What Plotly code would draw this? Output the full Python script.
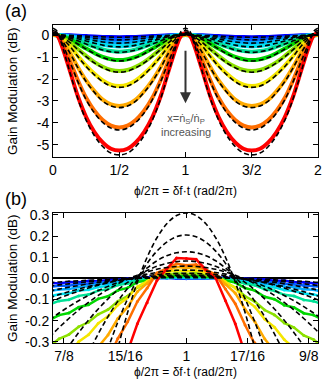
import plotly.graph_objects as go
from plotly.subplots import make_subplots

# ---------------- data ----------------
# (a) one half-lobe of each curve, phase 0..1/2 ; the curve is symmetric and repeats with period 1
half_phase = [0, 0.03125, 0.0625, 0.125, 0.1875, 0.25, 0.3125, 0.375, 0.4375, 0.5]

colors = ['rgb(0,0,255)', 'rgb(0,95,255)', 'rgb(0,170,255)', 'rgb(0,225,240)',
          'rgb(0,225,150)', 'rgb(0,215,0)', 'rgb(140,225,0)', 'rgb(245,230,0)',
          'rgb(255,170,0)', 'rgb(255,110,0)', 'rgb(255,0,0)']

gain_blue = [0, -0.001, -0.004, -0.015, -0.031, -0.05, -0.069, -0.085, -0.096, -0.1]
gain_blue2 = [0, -0.002, -0.009, -0.033, -0.068, -0.11, -0.152, -0.187, -0.211, -0.22]
gain_ltblue = [0, -0.004, -0.014, -0.054, -0.112, -0.18, -0.248, -0.306, -0.346, -0.36]
gain_cyan = [0, -0.005, -0.021, -0.078, -0.161, -0.26, -0.359, -0.442, -0.499, -0.52]
gain_teal = [0, -0.008, -0.038, -0.129, -0.258, -0.395, -0.532, -0.654, -0.73, -0.76]
gain_green = [0, -0.011, -0.057, -0.194, -0.399, -0.616, -0.821, -0.992, -1.1, -1.14]
gain_ygreen = [0.01, -0.016, -0.098, -0.328, -0.64, -0.951, -1.23, -1.443, -1.591, -1.64]
gain_yellow = [0.02, -0.02, -0.139, -0.487, -0.951, -1.392, -1.763, -2.065, -2.262, -2.32]
gain_orange = [0.03, -0.03, -0.226, -0.775, -1.454, -2.067, -2.552, -2.939, -3.159, -3.23]
gain_dkorange = [0.05, -0.02, -0.315, -1.134, -2.058, -2.856, -3.444, -3.864, -4.116, -4.2]
gain_red = [0.08, 0.0, -0.42, -1.575, -2.783, -3.728, -4.41, -4.883, -5.171, -5.25]
top_data = [gain_blue, gain_blue2, gain_ltblue, gain_cyan, gain_teal, gain_green,
            gain_ygreen, gain_yellow, gain_orange, gain_dkorange, gain_red]

theory_blue = [0.003, 0.0, -0.004, -0.015, -0.031, -0.05, -0.069, -0.085, -0.096, -0.1]
theory_blue2 = [0.006, 0.0, -0.008, -0.033, -0.068, -0.11, -0.152, -0.187, -0.211, -0.22]
theory_ltblue = [0.01, 0.0, -0.013, -0.055, -0.115, -0.185, -0.255, -0.315, -0.355, -0.37]
theory_cyan = [0.014, 0.005, -0.02, -0.08, -0.167, -0.27, -0.373, -0.459, -0.518, -0.54]
theory_teal = [0.024, 0.015, -0.03, -0.13, -0.265, -0.41, -0.553, -0.68, -0.758, -0.79]
theory_green = [0.039, 0.028, -0.045, -0.2, -0.41, -0.637, -0.85, -1.027, -1.139, -1.18]
theory_ygreen = [0.058, 0.04, -0.07, -0.33, -0.66, -0.98, -1.27, -1.487, -1.64, -1.69]
theory_yellow = [0.082, 0.055, -0.11, -0.49, -0.976, -1.428, -1.809, -2.118, -2.32, -2.38]
theory_orange = [0.126, 0.08, -0.19, -0.79, -1.485, -2.112, -2.607, -3.003, -3.227, -3.3]
theory_dkorange = [0.205, 0.12, -0.27, -1.17, -2.117, -2.938, -3.542, -3.974, -4.234, -4.32]
theory_red = [0.31, 0.18, -0.34, -1.64, -2.889, -3.87, -4.578, -5.069, -5.368, -5.45]
top_theory = [theory_blue, theory_blue2, theory_ltblue, theory_cyan, theory_teal, theory_green,
              theory_ygreen, theory_yellow, theory_orange, theory_dkorange, theory_red]

# (b) zoom around phase = 1, measured data (noisy)
zoom_phase = [0.86, 0.87, 0.88, 0.89, 0.90, 0.91, 0.92, 0.93, 0.94, 0.95, 0.96, 0.97, 0.98, 0.99, 1.0,
              1.01, 1.02, 1.03, 1.04, 1.05, 1.06, 1.07, 1.08, 1.09, 1.10, 1.11, 1.12, 1.13, 1.14]
zoom_blue = [-0.02, -0.024, -0.017, -0.019, -0.013, -0.014, -0.008, -0.007, -0.002, 0.0, 0.005, 0.002, 0.003, -0.001, -0.002,
             0.001, -0.001, 0.003, 0.004, 0.001, -0.001, -0.006, -0.005, -0.011, -0.012, -0.017, -0.018, -0.023, -0.024]
zoom_blue2 = [-0.04, -0.035, -0.035, -0.027, -0.027, -0.019, -0.018, -0.011, -0.008, -0.002, 0.001, 0.003, 0.001, 0.001, 0.0,
              0.002, 0.001, 0.002, -0.001, -0.002, -0.008, -0.01, -0.017, -0.019, -0.026, -0.028, -0.034, -0.036, -0.041]
zoom_ltblue = [-0.06, -0.053, -0.051, -0.041, -0.038, -0.028, -0.026, -0.016, -0.013, -0.004, -0.001, 0.003, 0.002, 0.004, 0.002,
               0.003, 0.002, 0.002, -0.003, -0.005, -0.014, -0.016, -0.027, -0.029, -0.039, -0.042, -0.052, -0.054, -0.063]
zoom_cyan = [-0.086, -0.075, -0.071, -0.058, -0.054, -0.041, -0.036, -0.023, -0.018, -0.006, -0.004, 0.004, 0.003, 0.006, 0.004,
             0.006, 0.003, 0.003, -0.004, -0.007, -0.019, -0.024, -0.037, -0.042, -0.055, -0.06, -0.072, -0.076, -0.087]
zoom_teal = [-0.124, -0.107, -0.101, -0.083, -0.077, -0.058, -0.051, -0.032, -0.025, -0.008, -0.005, 0.005, 0.005, 0.009, 0.006,
             0.008, 0.005, 0.004, -0.005, -0.01, -0.026, -0.033, -0.052, -0.059, -0.078, -0.084, -0.102, -0.108, -0.125]
zoom_green = [-0.198, -0.174, -0.164, -0.137, -0.125, -0.097, -0.085, -0.057, -0.045, -0.018, -0.01, 0.006, 0.008, 0.013, 0.011,
              0.013, 0.008, 0.006, -0.01, -0.02, -0.046, -0.058, -0.087, -0.099, -0.127, -0.138, -0.165, -0.174, -0.197]
zoom_ygreen = [-0.323, -0.286, -0.266, -0.229, -0.208, -0.17, -0.148, -0.109, -0.084, -0.043, -0.02, 0.011, 0.016, 0.024, 0.02,
               0.024, 0.016, 0.011, -0.02, -0.044, -0.085, -0.11, -0.15, -0.173, -0.211, -0.233, -0.27, -0.29, -0.325]
zoom_yellow = [-0.44, -0.396, -0.36, -0.3, -0.267, -0.213, -0.18, -0.126, -0.092, -0.04, -0.014, 0.019, 0.027, 0.038, 0.034,
               0.037, 0.025, 0.017, -0.016, -0.046, -0.1, -0.135, -0.193, -0.231, -0.29, -0.33, -0.39, -0.425, -0.485]
zoom_orange = [-0.68, -0.605, -0.545, -0.465, -0.405, -0.325, -0.268, -0.19, -0.136, -0.063, -0.024, 0.024, 0.036, 0.054, 0.049,
               0.053, 0.034, 0.02, -0.028, -0.07, -0.146, -0.205, -0.286, -0.345, -0.426, -0.485, -0.565, -0.625, -0.705]
zoom_dkorange = [-0.95, -0.855, -0.765, -0.655, -0.57, -0.465, -0.386, -0.285, -0.206, -0.11, -0.046, 0.025, 0.048, 0.069, 0.062,
                 0.065, 0.041, 0.017, -0.051, -0.12, -0.221, -0.305, -0.406, -0.485, -0.586, -0.665, -0.766, -0.845, -0.946]
zoom_red = [-1.35, -1.195, -1.066, -0.915, -0.806, -0.675, -0.566, -0.445, -0.346, -0.215, -0.116, -0.01, 0.044, 0.096, 0.094,
            0.09, 0.04, 0.0, -0.106, -0.215, -0.356, -0.465, -0.596, -0.705, -0.836, -0.945, -1.076, -1.185, -1.316]
zoom_data = [zoom_blue, zoom_blue2, zoom_ltblue, zoom_cyan, zoom_teal, zoom_green,
             zoom_ygreen, zoom_yellow, zoom_orange, zoom_dkorange, zoom_red]

# (b) theory, offset from phase = 1 (symmetric)
zoom_offset = [0, 0.01, 0.02, 0.03, 0.04, 0.05, 0.06, 0.07, 0.08, 0.09, 0.10, 0.11, 0.12, 0.13, 0.14]
zth_blue = [0.003, 0.003, 0.003, 0.002, 0.001, 0.0, -0.001, -0.003, -0.005, -0.007, -0.009, -0.012, -0.014, -0.017, -0.021]
zth_blue2 = [0.006, 0.006, 0.005, 0.004, 0.002, 0.001, -0.002, -0.005, -0.008, -0.012, -0.016, -0.021, -0.026, -0.031, -0.037]
zth_ltblue = [0.01, 0.01, 0.009, 0.007, 0.004, 0.001, -0.003, -0.008, -0.013, -0.019, -0.026, -0.034, -0.042, -0.051, -0.061]
zth_cyan = [0.016, 0.015, 0.014, 0.011, 0.007, 0.002, -0.004, -0.011, -0.019, -0.029, -0.039, -0.051, -0.063, -0.077, -0.092]
zth_teal = [0.024, 0.023, 0.021, 0.018, 0.013, 0.007, -0.001, -0.01, -0.021, -0.033, -0.046, -0.061, -0.077, -0.094, -0.113]
zth_green = [0.039, 0.038, 0.034, 0.028, 0.02, 0.009, -0.004, -0.02, -0.038, -0.058, -0.081, -0.106, -0.134, -0.164, -0.196]
zth_ygreen = [0.058, 0.056, 0.051, 0.043, 0.03, 0.015, -0.004, -0.026, -0.052, -0.081, -0.114, -0.15, -0.19, -0.233, -0.279]
zth_yellow = [0.082, 0.079, 0.071, 0.057, 0.037, 0.012, -0.019, -0.055, -0.097, -0.145, -0.198, -0.257, -0.321, -0.391, -0.467]
zth_orange = [0.126, 0.121, 0.107, 0.083, 0.049, 0.006, -0.047, -0.109, -0.181, -0.263, -0.354, -0.455, -0.565, -0.685, -0.815]
zth_dkorange = [0.205, 0.197, 0.171, 0.129, 0.071, -0.005, -0.097, -0.207, -0.333, -0.475, -0.635, -0.81, -1.0, -1.215, -1.44]
zth_red = [0.31, 0.297, 0.258, 0.192, 0.1, -0.018, -0.162, -0.332, -0.528, -0.75, -1.0, -1.27, -1.58, -1.9, -2.26]
zoom_theory = [zth_blue, zth_blue2, zth_ltblue, zth_cyan, zth_teal, zth_green,
               zth_ygreen, zth_yellow, zth_orange, zth_dkorange, zth_red]


def two_lobes(half_x, half_y):
    # half lobe -> full lobe 0..1 -> two periods 0..2
    x = half_x + [1 - p for p in reversed(half_x[:-1])]
    y = half_y + list(reversed(half_y[:-1]))
    return x + [1 + p for p in x[1:]], y + y[1:]


def around_one(offsets, vals):
    x = [1 - d for d in reversed(offsets[1:])] + [1 + d for d in offsets]
    y = list(reversed(vals[1:])) + vals
    return x, y


def main():
    fig = make_subplots(rows=2, cols=1)
    dash = '5px,3px'

    for c, vals in zip(colors, top_data):
        x, y = two_lobes(half_phase, vals)
        fig.add_trace(go.Scatter(x=x, y=y, mode='lines', line=dict(color=c, width=4, shape='spline'),
                                 showlegend=False), row=1, col=1)
    for vals in top_theory:
        x, y = two_lobes(half_phase, vals)
        fig.add_trace(go.Scatter(x=x, y=y, mode='lines',
                                 line=dict(color='black', width=1.6, dash=dash, shape='spline'),
                                 showlegend=False), row=1, col=1)

    for c, vals in zip(colors, zoom_data):
        fig.add_trace(go.Scatter(x=zoom_phase, y=vals, mode='lines+markers',
                                 line=dict(color=c, width=2.5), marker=dict(color=c, size=3),
                                 showlegend=False), row=2, col=1)
    for vals in zoom_theory:
        x, y = around_one(zoom_offset, vals)
        fig.add_trace(go.Scatter(x=x, y=y, mode='lines',
                                 line=dict(color='black', width=1.6, dash=dash, shape='spline'),
                                 showlegend=False), row=2, col=1)

    family = 'Arial, Liberation Sans, sans-serif'
    font = dict(family=family, size=14, color='black')
    axis = dict(showline=True, linecolor='black', linewidth=1, mirror='ticks', ticks='inside',
                ticklen=5, tickcolor='black', showgrid=False, zeroline=False, tickfont=font)

    fig.update_xaxes(**axis)
    fig.update_yaxes(**axis)
    fig.update_xaxes(range=[0, 2], tickvals=[0, 0.5, 1, 1.5, 2],
                     ticktext=['0', '1/2', '1', '3/2', '2'], domain=[0, 1], row=1, col=1)
    fig.update_yaxes(range=[-5.545, 0.455], tickvals=[0, -1, -2, -3, -4, -5],
                     ticktext=['0', '-1', '-2', '-3', '-4', '-5'], domain=[0.585, 1], row=1, col=1)
    fig.update_xaxes(range=[0.8638, 1.1345], tickvals=[0.875, 0.9375, 1, 1.0625, 1.125],
                     ticktext=['7/8', '15/16', '1', '17/16', '9/8'], domain=[0, 1], row=2, col=1)
    fig.update_yaxes(range=[-0.306, 0.311], tickvals=[0.3, 0.2, 0.1, 0, -0.1, -0.2, -0.3],
                     ticktext=['0.3', '0.2', '0.1', '0.0', '-0.1', '-0.2', '-0.3'],
                     zeroline=True, zerolinecolor='black', zerolinewidth=2,
                     domain=[0, 0.41], row=2, col=1)

    lab = dict(family=family, size=13.5, color='black')
    xtitle = 'ϕ/2π = δf·t (rad/2π)'
    notes = [
        dict(text='(a)', x=-0.19, y=1.045, font=dict(family=family, size=18, color='black'),
             xanchor='left', yanchor='middle'),
        dict(text='(b)', x=-0.19, y=0.453, font=dict(family=family, size=18, color='black'),
             xanchor='left', yanchor='middle'),
        dict(text='Gain Modulation (dB)', x=-0.155, y=0.792, textangle=-90, font=lab,
             xanchor='center', yanchor='middle'),
        dict(text='Gain Modulation (dB)', x=-0.155, y=0.204, textangle=-90, font=lab,
             xanchor='center', yanchor='middle'),
        dict(text=xtitle, x=0.5, y=0.478, font=dict(family=family, size=12, color='black'),
             xanchor='center', yanchor='middle'),
        dict(text=xtitle, x=0.5, y=-0.091, font=dict(family=family, size=12, color='black'),
             xanchor='center', yanchor='middle'),
    ]
    for n in notes:
        fig.add_annotation(xref='paper', yref='paper', showarrow=False, **n)

    fig.add_annotation(x=1, y=-3.1, ax=1, ay=-0.65, xref='x', yref='y', axref='x', ayref='y',
                       text='', showarrow=True, arrowhead=2, arrowsize=1.1, arrowwidth=2,
                       arrowcolor='#333333')
    fig.add_annotation(x=1, y=-4.07, xref='x', yref='y', showarrow=False,
                       text='x=ṅ<sub>S</sub>/ṅ<sub>P</sub><br>increasing',
                       font=dict(family=family, size=11, color='#555555'))

    fig.update_layout(width=335, height=385, margin=dict(l=53, r=17, t=25, b=42),
                      plot_bgcolor='white', paper_bgcolor='white', showlegend=False)
    return fig


if __name__ == '__main__':
    figure = main()
    # the page's default body margin would push the figure 8px off; drop it
    figure.write_html('out.html', config={'displayModeBar': False},
                      post_script="document.body.style.margin='0px';")
